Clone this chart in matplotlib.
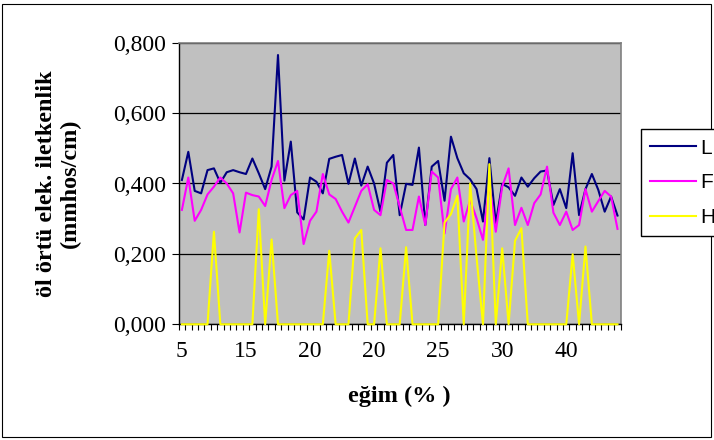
import numpy as np
import matplotlib
matplotlib.use("Agg")
import matplotlib.pyplot as plt
from matplotlib.patches import Rectangle

# eğim kategorileri (only every 10th label is printed on the axis)
tick_labels = ["5", "15", "20", "20", "25", "30", "40"]
y_tick_labels = ["0,000", "0,200", "0,400", "0,600", "0,800"]

L = [0.410, 0.490, 0.379, 0.372, 0.438, 0.443, 0.402, 0.432, 0.438, 0.432,
     0.427, 0.471, 0.429, 0.384, 0.448, 0.765, 0.408, 0.519, 0.318, 0.298,
     0.417, 0.405, 0.372, 0.470, 0.476, 0.481, 0.399, 0.471, 0.394, 0.448,
     0.400, 0.320, 0.459, 0.481, 0.310, 0.399, 0.396, 0.502, 0.282, 0.448,
     0.464, 0.351, 0.533, 0.472, 0.429, 0.412, 0.384, 0.292, 0.472, 0.287,
     0.399, 0.389, 0.365, 0.417, 0.391, 0.415, 0.434, 0.437, 0.339, 0.384,
     0.330, 0.486, 0.310, 0.384, 0.427, 0.382, 0.320, 0.363, 0.309]

F = [0.325, 0.417, 0.294, 0.325, 0.369, 0.391, 0.417, 0.400, 0.372, 0.261,
     0.374, 0.367, 0.363, 0.336, 0.410, 0.464, 0.330, 0.367, 0.379, 0.228,
     0.294, 0.320, 0.427, 0.369, 0.356, 0.320, 0.289, 0.334, 0.379, 0.398,
     0.325, 0.310, 0.410, 0.400, 0.334, 0.268, 0.268, 0.363, 0.282, 0.434,
     0.417, 0.258, 0.384, 0.417, 0.292, 0.353, 0.301, 0.240, 0.400, 0.263,
     0.391, 0.443, 0.282, 0.331, 0.282, 0.344, 0.369, 0.448, 0.317, 0.282,
     0.320, 0.268, 0.282, 0.384, 0.320, 0.350, 0.379, 0.363, 0.271]

H = [0, 0, 0, 0, 0, 0.263, 0, 0, 0, 0,
     0, 0, 0.327, 0, 0.241, 0, 0, 0, 0, 0,
     0, 0, 0, 0.209, 0, 0, 0, 0.244, 0.268, 0,
     0, 0.216, 0, 0, 0, 0.219, 0, 0, 0, 0,
     0, 0.289, 0.313, 0.365, 0, 0.400, 0.190, 0, 0.455, 0,
     0.216, 0, 0.237, 0.273, 0, 0, 0, 0, 0, 0,
     0, 0.199, 0, 0.221, 0, 0, 0, 0, 0]

W, Hpx = 714, 440
fig = plt.figure(figsize=(W / 100, Hpx / 100), dpi=100)
fig.patches.append(Rectangle((2 / W, 3 / Hpx), 709 / W, 433 / Hpx, transform=fig.transFigure,
                             fill=False, edgecolor="black", linewidth=0.8))

ax = fig.add_axes([178.7 / W, (Hpx - 324.3) / Hpx, 442 / W, 281.6 / Hpx])
ax.set_facecolor("#C0C0C0")

x = np.arange(len(L))
ax.plot(x, L, color="#000080", lw=1.5, label="L", clip_on=False)
ax.plot(x, F, color="#FF00FF", lw=1.5, label="F", clip_on=False)
ax.plot(x, H, color="#FFFF00", lw=1.5, label="H", clip_on=False, zorder=3)

ax.set_xlim(-0.5, len(L) - 0.5)
ax.set_ylim(0, 0.8)

serif = "Liberation Serif"
ax.set_xticks(np.arange(0, len(L), 10))
ax.set_xticklabels(tick_labels, fontfamily=serif, fontsize=17)
ax.set_xticks(np.arange(-0.5, len(L), 1), minor=True)
ax.tick_params(axis="x", which="major", length=0, pad=12)
ax.tick_params(axis="x", which="minor", length=4, width=0.8, direction="out")

ax.set_yticks([0, 0.2, 0.4, 0.6, 0.8])
ax.set_yticklabels(y_tick_labels, fontfamily=serif, fontsize=17)
ax.tick_params(axis="y", length=5, width=0.8, direction="out", pad=4)
ax.yaxis.grid(True, color="black", lw=0.9)
ax.set_axisbelow(True)

for side in ["top", "right"]:
    ax.spines[side].set_color("#808080")
    ax.spines[side].set_linewidth(1.2)
ax.spines["left"].set_linewidth(1)
ax.spines["bottom"].set_linewidth(1)

ax.set_xlabel("eğim (% )", fontfamily=serif, fontsize=17.5, fontweight="bold")
ax.xaxis.set_label_coords(0.5, -0.22)
ax.set_ylabel("öl örtü elek. iletkenlik\n(mmhos/cm)", fontfamily=serif, fontsize=17.5,
              fontweight="bold", linespacing=1.15)
ax.yaxis.set_label_coords(-0.222, 0.5)

leg = fig.legend(loc="upper left", bbox_to_anchor=(640.7 / W, 1 - 129.3 / Hpx), borderaxespad=0,
                 prop={"family": "Liberation Sans", "size": 15}, handlelength=2.2,
                 labelspacing=0.75, fancybox=False, framealpha=1, edgecolor="black",
                 borderpad=0.45, handletextpad=0.2)
leg.get_frame().set_linewidth(1)

fig.savefig("out.png", dpi=100)
